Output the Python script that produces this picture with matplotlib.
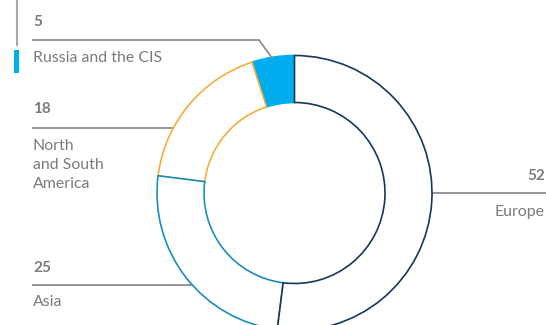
import matplotlib
matplotlib.use("Agg")
import matplotlib.pyplot as plt
from matplotlib.patches import Rectangle

# ---- data ----
regions = ["Europe", "Asia", "North\nand South\nAmerica", "Russia and the CIS"]
values = [52, 25, 18, 5]
edge_colors = ["#17375e", "#1b8cc0", "#f6ad3c", "#00aeef"]
face_colors = ["white", "white", "white", "#00aeef"]

W, H = 546, 325
fig = plt.figure(figsize=(W / 100, H / 100), dpi=100)
ax = fig.add_axes([0, 0, 1, 1])

def py(y):  # pixel-from-top to data y
    return H - y

cx, cy, R, ring = 294.5, py(193), 137.5, 47

wedges, _ = ax.pie(values, radius=R, center=(cx, cy), startangle=90,
                   counterclock=False, frame=True,
                   wedgeprops=dict(width=ring, linewidth=1.2))
for i, w in enumerate(wedges):
    w.set_facecolor(face_colors[i])
    w.set_edgecolor(edge_colors[i])
    w.set_zorder(10 - i)
ax.set_xlim(0, W)
ax.set_ylim(0, H)
ax.set_aspect("equal")
ax.axis("off")

txt = "#7b7b7b"
line_c = "#8e8e8e"
fam = ["Lato", "DejaVu Sans"]
fs_num = 11.0
fs_lab = 11.4

def label(x, y, s, ha="left", bold=False):
    ax.text(x, py(y), s, color=txt, fontsize=fs_num if bold else fs_lab,
            fontweight="bold" if bold else "normal", family=fam,
            va="baseline", ha=ha, zorder=30)

# Russia
label(33, 26, str(values[3]), bold=True)
ax.plot([33, 259, 272], [py(40), py(40), py(58)], color=line_c, lw=1.3, zorder=20)
label(33, 62, regions[3])

# Americas
label(33, 113, str(values[2]), bold=True)
ax.plot([33, 172], [py(127.5), py(127.5)], color=line_c, lw=1.3, zorder=1)
for k, line in enumerate(regions[2].split("\n")):
    label(33, 150 + 19 * k, line)

# Asia
label(33, 272, str(values[1]), bold=True)
ax.plot([33, 193], [py(285), py(285)], color=line_c, lw=1.3, zorder=1)
label(33, 306, regions[1])

# Europe
label(545, 180, str(values[0]), ha="right", bold=True)
ax.plot([432, 546], [py(192.7), py(192.7)], color=line_c, lw=1.3, zorder=1)
label(545, 216, regions[0], ha="right")

# decorative left marker
ax.plot([16.5, 16.5], [py(0), py(45)], color="#a6a6a6", lw=1.5, zorder=20)
ax.add_patch(Rectangle((14, py(73)), 5, 23, facecolor="#00aeef", edgecolor="none", zorder=20))

fig.savefig("out.png", dpi=100)
